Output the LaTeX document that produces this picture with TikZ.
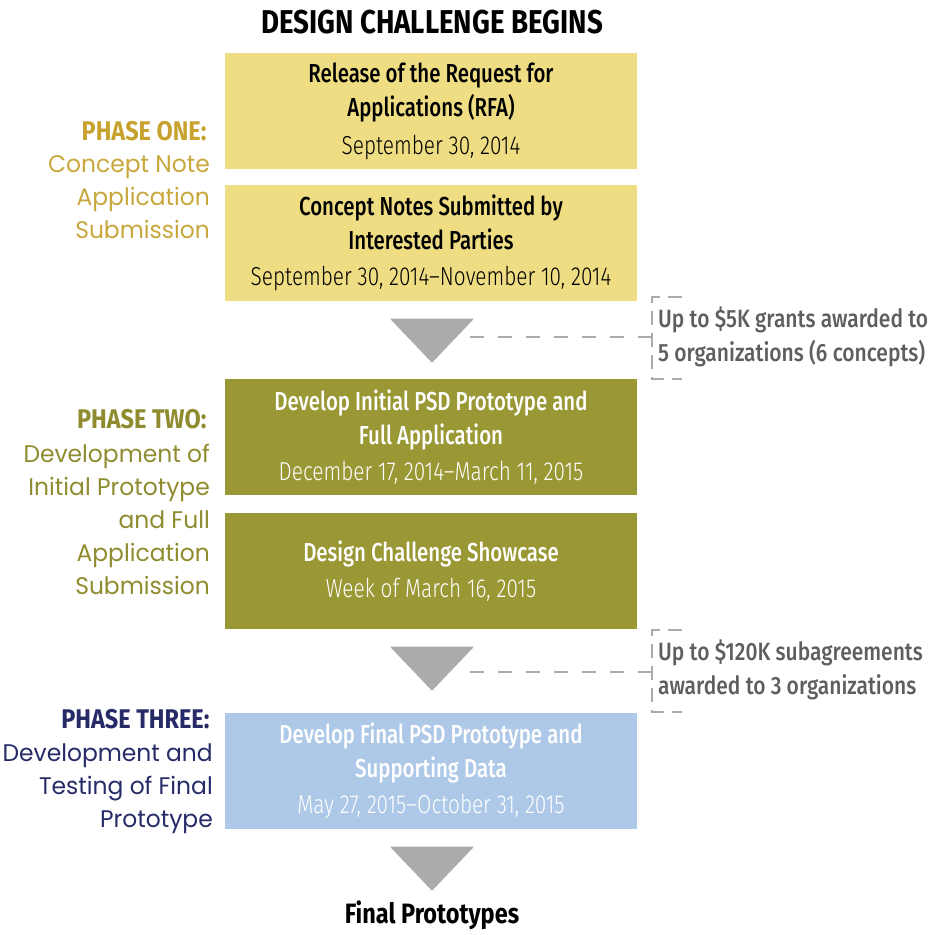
\documentclass[tikz,border=0pt]{standalone}
\usepackage{fontspec}
\setmainfont{Fira Sans}
\newfontfamily\condlight[FakeStretch=0.8]{Fira Sans Light}
\newfontfamily\condmed[FakeStretch=0.785]{Fira Sans Medium}
\newfontfamily\notefont[FakeStretch=0.84]{Fira Sans Medium}
\newfontfamily\headfont[FakeStretch=0.84]{Fira Sans Bold}
\newfontfamily\phasefont[FakeStretch=0.87]{Fira Sans Bold}
\newfontfamily\geofont[FakeStretch=0.975]{Poppins}
\definecolor{boxyellow}{HTML}{EEDD82}
\definecolor{boxolive}{HTML}{9A9735}
\definecolor{boxblue}{HTML}{AEC8E8}
\definecolor{goldhead}{HTML}{C7A22F}
\definecolor{goldtext}{HTML}{C8A73C}
\definecolor{olivetext}{HTML}{8F8B2F}
\definecolor{navytext}{HTML}{262B68}
\definecolor{arrowgray}{HTML}{ABABAB}
\definecolor{notegray}{HTML}{5E5E5E}
\definecolor{dashgray}{HTML}{ABABAB}
\tikzset{
  stage/.style={rectangle, minimum width=412pt, minimum height=116pt,
    inner sep=0pt, align=center, font=\condmed\fontsize{26}{34}\selectfont},
  phasehead/.style={anchor=east, font=\phasefont\fontsize{27}{33}\selectfont},
  phaselabel/.style={anchor=north east, align=right, inner sep=0pt,
    font=\geofont\fontsize{24}{33}\selectfont},
  downarrow/.style={fill=arrowgray, draw=arrowgray, line width=1pt, line join=round},
  note/.style={anchor=west, align=left, inner sep=0pt, text=notegray,
    font=\notefont\fontsize{25}{34}\selectfont},
  dashline/.style={draw=dashgray, line width=2.2pt, dash pattern=on 14pt off 14pt},
  bracket/.style={draw=dashgray, line width=2.2pt, dash pattern=on 14pt off 8pt},
}
\newcommand{\datefont}{\condlight\fontsize{26}{34}\selectfont}
\begin{document}
\begin{tikzpicture}[x=1pt,y=-1pt]
\useasboundingbox (0,0) rectangle (930,935);

% heading
\node[font=\headfont\fontsize{33}{36}\selectfont] (start) at (432,22) {DESIGN CHALLENGE BEGINS};

% phase one
\node[stage, fill=boxyellow] (rfa) at (431,111)
  {Release of the Request for\\Applications (RFA)\\[4pt]{\datefont September 30, 2014}};
\node[stage, fill=boxyellow] (notes) at (431,243)
  {Concept Notes Submitted by\\Interested Parties\\[2pt]{\datefont September 30, 2014–November 10, 2014}};

% phase two
\node[stage, fill=boxolive, text=white] (initial) at (431,437)
  {Develop Initial PSD Prototype and\\Full Application\\[2pt]{\datefont December 17, 2014–March 11, 2015}};
\node[stage, fill=boxolive, text=white] (showcase) at (431,571)
  {Design Challenge Showcase\\[2pt]{\datefont Week of March 16, 2015}};

% phase three
\node[stage, fill=boxblue, text=white] (final) at (431,771)
  {Develop Final PSD Prototype and\\Supporting Data\\[2pt]{\datefont May 27, 2015–October 31, 2015}};

% closing label
\node[font=\headfont\fontsize{28}{30}\selectfont] (result) at (432,915) {Final Prototypes};

% down arrows between stages
\coordinate (a1) at (432,362);
\coordinate (a2) at (432,690);
\coordinate (a3) at (432,890);
\foreach \t in {a1,a2,a3}
  \filldraw[downarrow] (\t) -- ++(-41,-43) -- ++(82,0) -- cycle;

% funding notes with dashed brackets
\node[note] (grant1) at (658,337) {Up to \$5K grants awarded to\\5 organizations (6 concepts)};
\node[note] (grant2) at (658,670) {Up to \$120K subagreements\\awarded to 3 organizations};

\draw[bracket] (682,297) -- (652,297) -- (652,379) -- (682,379);
\draw[bracket] (682,630) -- (652,630) -- (652,712) -- (682,712);
\coordinate (b1) at (652,337);
\coordinate (b2) at (652,672);
\draw[dashline] ([xshift=38pt,yshift=25pt]a1) -- (b1);
\draw[dashline] ([xshift=38pt,yshift=18pt]a2) -- (b2);

% phase labels on the left
\node[phasehead, text=goldhead] (p1) at (210,131) {PHASE ONE:};
\node[phaselabel, text=goldtext] (p1t) at (210,155) {Concept Note\\Application\\Submission};

\node[phasehead, text=olivetext] (p2) at (210,419) {PHASE TWO:};
\node[phaselabel, text=olivetext] (p2t) at (210,444) {Development of\\Initial Prototype\\and Full\\Application\\Submission};

\node[phasehead, text=navytext] (p3) at (213,719) {PHASE THREE:};
\node[phaselabel, text=navytext] (p3t) at (213,744) {Development and\\Testing of Final\\Prototype};
\end{tikzpicture}
\end{document}
